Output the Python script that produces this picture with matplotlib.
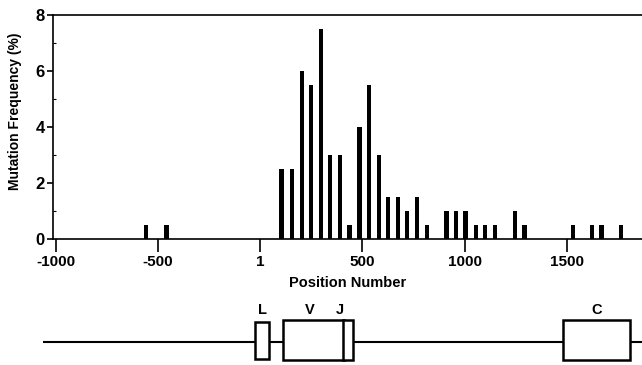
import matplotlib
matplotlib.use("Agg")
import matplotlib.pyplot as plt
from matplotlib.patches import Rectangle
from matplotlib.ticker import MultipleLocator

# ---- mutation frequency per position bin ----
positions = [-560, -460,
             104, 155, 203, 248, 297, 341, 390, 437, 486, 531, 580, 625,
             674, 718, 767, 816, 911, 958, 1004, 1056, 1100, 1149,
             1247, 1294, 1531, 1624, 1671, 1766]
freq = [0.5, 0.5,
        2.5, 2.5, 6.0, 5.5, 7.5, 3.0, 3.0, 0.5, 4.0, 5.5, 3.0, 1.5,
        1.5, 1.0, 1.5, 0.5, 1.0, 1.0, 1.0, 0.5, 0.5, 0.5,
        1.0, 0.5, 0.5, 0.5, 0.5, 0.5]

xticks = [-1000, -500, 1, 500, 1000, 1500]
xticklabels = ["-1000", "-500", "1", "500", "1000", "1500"]
yticks = [0, 2, 4, 6, 8]

# ---- gene map segments ----
seg_names = ["L", "V", "J", "C"]
seg_start = [-26, 110, 406, 1483]
seg_end = [44, 410, 455, 1809]
line_start, line_end = -1064, 1880

plt.rcParams["font.family"] = ["Liberation Sans", "DejaVu Sans"]
plt.rcParams["font.weight"] = "bold"

fig = plt.figure(figsize=(6.42, 3.65), dpi=100)

# main bar chart
ax = fig.add_axes([53.3 / 642, 126.3 / 365, 1 - 53.3 / 642, 224 / 365])
ax.bar(positions, freq, width=22, color="black", align="center")
ax.set_xlim(-1013, 1868)
ax.set_ylim(0, 8)
ax.spines["right"].set_visible(False)
for s in ("left", "bottom", "top"):
    ax.spines[s].set_linewidth(1.2)
ax.set_xticks(xticks)
ax.set_xticklabels(xticklabels)
ax.set_yticks(yticks)
ax.yaxis.set_minor_locator(MultipleLocator(1))
ax.tick_params(axis="x", direction="out", length=9.5, width=1.2, labelsize=11, pad=2)
ax.tick_params(axis="y", which="major", direction="out", length=4, width=1.2,
               labelsize=12, pad=2)
ax.tick_params(axis="y", which="minor", direction="in", length=2, width=0.8)
for lab in ax.get_xticklabels() + ax.get_yticklabels():
    lab.set_fontweight("bold")
ax.set_xlabel("Position Number", fontsize=10.5, fontweight="bold", labelpad=5)
ax.set_ylabel("Mutation Frequency (%)", fontsize=10, fontweight="bold")
ax.yaxis.set_label_coords(-0.054, 0.57)

# gene map below, same horizontal scale
px_to_v = 1 / 0.2043
gx0 = -1000 - 56 * px_to_v
gx1 = gx0 + 642 * px_to_v
gax = fig.add_axes([0, 0, 1, 70 / 365])
gax.set_xlim(gx0, gx1)
gax.set_ylim(0, 70)
gax.axis("off")
gax.plot([line_start, line_end], [23.5, 23.5], color="black", lw=1.5,
         solid_capstyle="butt")
label_shift = {"L": 0, "V": -20, "J": -40, "C": 0}
for name, a, b in zip(seg_names, seg_start, seg_end):
    lo, hi = (6, 43) if name == "L" else (5, 45)
    gax.add_patch(Rectangle((a, lo), b - a, hi - lo, facecolor="white",
                            edgecolor="black", lw=1.8, zorder=3))
    gax.text((a + b) / 2 + label_shift[name], 55, name, ha="center",
             va="center", fontsize=10.5, fontweight="bold")

fig.savefig("out.png", dpi=100)
